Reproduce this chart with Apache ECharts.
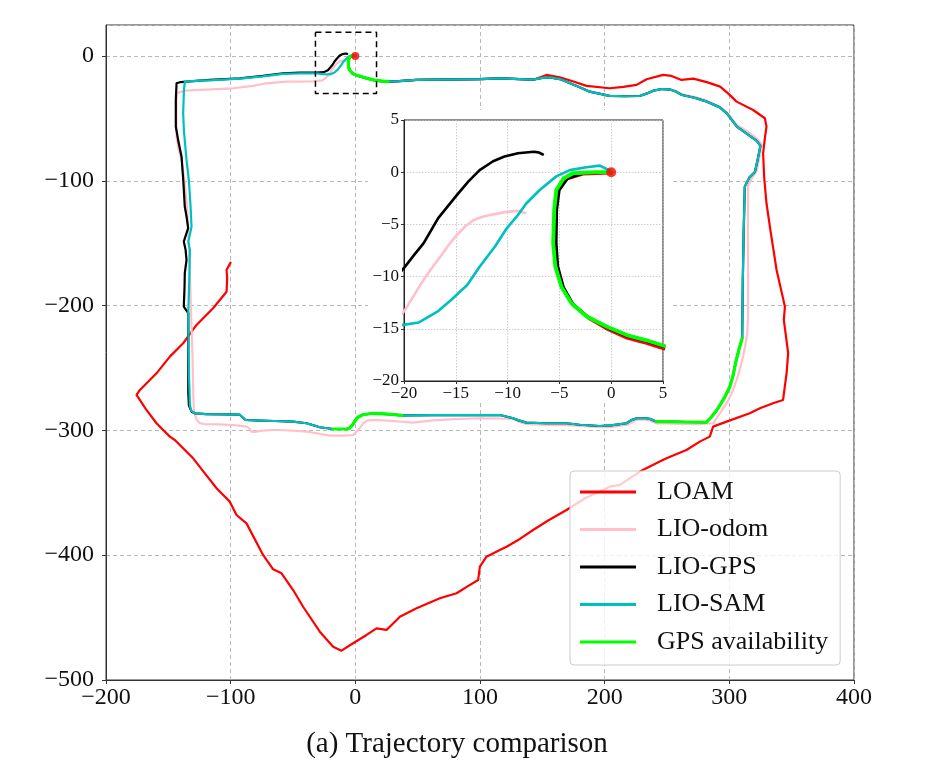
<!DOCTYPE html>
<html>
<head>
<meta charset="utf-8">
<script src="https://cdn.jsdelivr.net/npm/echarts@6/dist/echarts.min.js"></script>
<style>
html,body{margin:0;padding:0;background:#fff;}
#chart{width:940px;height:768px;}
</style>
</head>
<body>
<div id="chart"></div>
<script>
// ---------- data (metres) ----------
const xTicks = [-200, -100, 0, 100, 200, 300, 400];
const yTicks = [-500, -400, -300, -200, -100, 0];
const legendNames = ['LOAM', 'LIO-odom', 'LIO-GPS', 'LIO-SAM', 'GPS availability'];

const samStart = [[0,0],[-1.5,0],[-2.7,-0.05],[-3.7,-0.1],[-4.6,-0.6],[-5.3,-1.7],[-5.5,-3.6],[-5.6,-6.8],[-5.4,-9],[-4.8,-11],[-3.8,-12.6],[-2.4,-13.8],[-0.4,-14.8],[1.5,-15.6],[3.4,-16.1],[5,-16.6],[9,-17.8],[14.3,-19.2],[20,-20],[26.3,-20.6]];
const loamStart = [[0,-0.1],[-2.7,-0.2],[-4.4,-0.7],[-5.1,-1.8],[-5.3,-3.6],[-5.4,-6.8],[-5.2,-9.2],[-4.6,-11.2],[-3.6,-12.8],[-2.2,-14],[-0.3,-15.1],[1.5,-15.9],[3.4,-16.4],[5,-16.9],[9,-18],[14.3,-19.3],[20,-20.1],[26.3,-20.7]];
const gpsStart = [[0,0],[-1.5,0],[-2.7,-0.05],[-3.7,-0.1],[-4.6,-0.6],[-5.3,-1.7],[-5.5,-3.6],[-5.6,-6.8],[-5.4,-9],[-4.8,-11],[-3.8,-12.6],[-2.4,-13.8],[-0.4,-14.8],[1.5,-15.6],[3.4,-16.1],[5,-16.6],[9,-17.8],[14.3,-19.2],[20,-20],[26.3,-20.6]];
const blackStart = [[0,0],[-2.7,-0.1],[-4.2,-0.6],[-5,-1.7],[-5.25,-3.6],[-5.3,-6.8],[-5.15,-9],[-4.6,-11],[-3.7,-12.6],[-2.3,-13.8],[-0.4,-14.9],[1.5,-15.7],[3.4,-16.2],[5,-16.7],[9,-17.8],[14.3,-19.2],[20,-20],[26.3,-20.6]];
const topShared = [[35,-20.2],[49,-19.2],[65,-19],[84,-18.7],[100,-18.5],[116,-17.9],[132,-18.5],[142.6,-19]];
const samTopRight = [[150,-17.6],[156,-17.1],[164,-18.5],[169.4,-20.6],[180,-25],[188,-28.6],[204,-32],[216,-32.3],[228,-32.1],[234,-30],[239,-27.8],[246,-26.5],[252,-26.7],[257,-28.5],[262,-31.3],[272,-33.5],[282,-36.6],[292,-41],[298,-46],[306,-56.6],[315,-63],[322,-68],[325,-72],[322.5,-84],[320.5,-93],[316,-97.5],[312.4,-104.7],[311.6,-136.8],[310.8,-180],[310.3,-226.2]];
const samRightGps = [[310.3,-226.2],[307.5,-236],[305,-246],[303,-256],[300.4,-265],[296,-274],[290,-283.7],[285,-290],[281.7,-293.5],[265,-293.3],[249.6,-293],[241.6,-293]];
const samBottomRight = [[241.6,-293],[237,-291],[233.6,-290.3],[225.6,-290.3],[221,-292],[217.5,-294.3],[205,-296],[196,-296.5],[180,-295.5],[169.4,-294.3],[153,-294.3],[137.3,-293.8],[131,-292],[126.6,-290.3],[116,-287.7],[90,-287.7],[62,-287.7],[37.3,-288]];
const samBottomGps = [[37.3,-288],[26,-286.9],[14.3,-286.3],[6,-287.5],[2,-289.5],[0,-292],[-2.5,-296],[-5,-298.5],[-7.1,-298.9],[-17.8,-298.9]];
const samBottomLeft = [[-17.8,-298.9],[-28.5,-297.5],[-35,-295.5],[-39.1,-294.3],[-50,-293],[-65,-292.5],[-76.6,-292.2],[-88,-291.7],[-90.5,-289.5],[-93,-287.3],[-103.3,-287.1],[-119.4,-286.9],[-128.7,-286.3]];
const samLeft = [[-131.5,-284.5],[-132.7,-280],[-133.3,-260],[-133.7,-240],[-134,-206],[-133.2,-180],[-132.7,-155.4],[-134,-148.8],[-131.4,-136.8],[-132.2,-120],[-133.5,-100],[-135.4,-83.3],[-137.5,-60],[-138.1,-45.9],[-137.5,-28],[-136.8,-20.6]];
const samTopLeft = [[-125,-19.8],[-116.7,-19.5],[-92.6,-18.2],[-74,-16.3],[-58,-14.3],[-44.5,-14],[-31,-14],[-26,-14.5],[-22,-14.8]];
const samEnd = [[-19.9,-14.6],[-18.6,-14.4],[-16.7,-13.3],[-15.4,-12.2],[-13.9,-10.8],[-12.7,-9.05],[-11.2,-7.1],[-10.1,-5.4],[-9,-4.1],[-8.2,-3],[-6.9,-1.7],[-5.3,-0.4],[-4,0.2],[-2.4,0.47],[-1.1,0.63],[-0.1,0.14]];
const blackLeft = [[-131.4,-285],[-133.5,-280],[-134,-270],[-134,-240],[-134,-206],[-137.6,-200.9],[-137,-185],[-136.8,-174],[-135.4,-163.5],[-136.2,-155],[-137.6,-148.8],[-134.1,-138],[-135.5,-128],[-136.8,-120.7],[-138,-100],[-139.4,-80.7],[-142,-68],[-144,-56.6],[-144,-35],[-143.4,-21.9],[-140,-20.9],[-135.4,-20.6]];
const blackTopLeft = [[-116.7,-19.2],[-92.6,-17.9],[-74,-16],[-58,-13.9],[-44.5,-13.4],[-31,-13.4],[-25.5,-13],[-22,-11.5]];
const blackEnd = [[-19.9,-9.05],[-19,-7.9],[-18.1,-6.8],[-17.4,-5.6],[-16.7,-4.4],[-15.8,-3.3],[-14.9,-2.2],[-13.8,-0.9],[-12.7,0.2],[-11.4,1.05],[-10.3,1.5],[-9,1.82],[-7.5,1.96],[-7,1.9],[-6.6,1.7]];
const odomRest = [[257,-28],[262,-30.5],[272,-32.8],[282,-35.8],[292,-40.5],[298,-45],[306,-55],[316,-61.5],[323,-67],[326,-71.5],[324,-82],[322,-92],[318,-98],[315,-104],[314.8,-140],[315,-180],[315,-210],[314.4,-222],[312.4,-234],[310,-245],[307,-256],[303,-267.6],[298,-278],[292,-287],[287,-294.3],[275,-295],[260,-294.8],[249.6,-294.5],[241.6,-294.5],[236,-292],[233,-291.5],[225.6,-291.5],[218,-295.5],[205,-297.5],[196,-297.5],[180,-296.5],[169,-295.8],[153,-295.6],[137.3,-295],[131,-293],[126.6,-290.8],[116,-290.5],[99.9,-290.3],[80,-291],[62,-292],[46.4,-293.8],[30,-292.5],[17,-291.7],[10,-292],[6.3,-294.3],[3,-299],[-1.8,-303.7],[-10,-304.2],[-20.5,-304.2],[-30,-302.5],[-39.1,-301],[-50,-300.3],[-60.6,-299.7],[-66,-299.7],[-75,-300.2],[-80.5,-301.2],[-83.3,-301],[-85.5,-298],[-87.3,-297],[-98,-295.7],[-110,-295.2],[-121,-295],[-124.7,-294.3],[-127.3,-291.5],[-129.5,-285],[-130,-270.3],[-130.6,-240],[-131.4,-216.9],[-132.5,-180],[-133.5,-150],[-135,-120],[-137,-100],[-139.4,-83.3],[-142,-74],[-143.4,-65],[-143.6,-45],[-143.4,-29.9],[-140,-28.8],[-135.4,-27.7],[-120,-27],[-98,-25.9],[-82,-24],[-71.2,-21.9],[-55.2,-20.6],[-33.8,-20.3],[-26.5,-19.5],[-22.5,-16.5],[-19.9,-13.2],[-19.1,-11.9],[-18.3,-10.6],[-17.4,-9.3],[-16.5,-8.1],[-15.7,-7],[-14.9,-6],[-14.1,-5.2],[-13.3,-4.6],[-12.5,-4.3],[-11.7,-4.1],[-10.1,-3.8],[-9.1,-3.7],[-8.3,-3.9]];
const loamRest = [[153.4,-15.2],[164,-17.1],[175,-20.5],[185.4,-24],[204.1,-25.9],[215,-24.8],[225.6,-23.2],[233.6,-18.7],[246.9,-15.2],[253.6,-16],[261.6,-19.2],[271,-18.2],[282,-21],[292.6,-24.6],[299,-30],[305.8,-36.6],[319.1,-43.3],[328.5,-49.9],[329.8,-56.6],[328.5,-66],[327.1,-78],[328,-98],[329.8,-118],[333,-140],[337.9,-171.5],[344.6,-200.9],[343.7,-211.5],[347.2,-238.2],[345.9,-254.3],[343.1,-275.6],[335.1,-278.3],[325,-282],[316.4,-286.3],[297.8,-293],[287,-297],[284.3,-305],[276.3,-309],[265.6,-315.7],[249.6,-322.4],[244.2,-325],[228.2,-333],[212.2,-343.7],[204.1,-345.1],[185,-354],[169.4,-363.8],[155,-372],[142.6,-379.8],[132,-387],[121.3,-393.2],[115.9,-395.8],[105.2,-401.2],[99.9,-409.2],[98.5,-419.9],[90,-425],[81.2,-430.5],[67.8,-434.5],[49.1,-442.5],[35.7,-449.3],[25,-459.9],[17,-458.6],[9,-463.9],[-1.8,-470.6],[-11.1,-476.5],[-17.8,-473.3],[-28.5,-461.3],[-41.9,-441.3],[-49.9,-427.9],[-59.2,-414.5],[-65.9,-411.3],[-74,-399.8],[-87.3,-374.5],[-95.3,-367.8],[-100.7,-357.1],[-111.3,-346.4],[-120.7,-334.4],[-130.1,-322.4],[-144.8,-307.7],[-148.8,-305],[-159.5,-294.3],[-168,-283],[-175.5,-271.6],[-172.8,-267.6],[-159.5,-254.3],[-148.8,-240.9],[-138.1,-230.2],[-127.4,-215.5],[-114.1,-202.2],[-103.3,-188.9],[-102.8,-178],[-103.3,-171.5],[-100.1,-165.6]];
const startPoint = [[0, 0]];
const zoomBox = [[-32,19],[17,19],[17,-30],[-32,-30],[-32,19]];

// ---------- assembled trajectories ----------
const upToTopRight = samTopRight.slice(0, 12);
const loam = loamStart.concat(topShared, loamRest);
const odom = gpsStart.concat(topShared, upToTopRight, odomRest);
const lioGps = blackStart.concat(topShared, samTopRight, samRightGps, samBottomRight, samBottomGps, samBottomLeft, blackLeft, blackTopLeft, blackEnd);
const lioSam = samStart.concat(topShared, samTopRight, samRightGps, samBottomRight, samBottomGps, samBottomLeft, samLeft, samTopLeft, samEnd);
const gpsSegments = [gpsStart, samRightGps, samBottomGps];

const FONT = '"Liberation Serif", "DejaVu Serif", serif';
const minus = v => (v < 0 ? '\u2212' + Math.abs(v) : String(v));
const colors = {'LOAM':'#ff0000','LIO-odom':'#ffc0cb','LIO-GPS':'#000000','LIO-SAM':'#00bfbf','GPS availability':'#00ff00'};

const series = [];
function addLine(name, data, width, gi, z) {
  series.push({
    name, type: 'line', data, xAxisIndex: gi, yAxisIndex: gi,
    symbol: 'none', showSymbol: false, silent: true, animation: false, z,
    color: colors[name],
    lineStyle: {color: colors[name], width, cap: 'round', join: 'round'}
  });
}
[0, 1].forEach(gi => {
  const s = gi === 0 ? 1 : 1.2;
  const z = gi === 0 ? 2 : 6;
  addLine('LOAM', loam, 2.2 * s, gi, z);
  addLine('LIO-odom', odom, 2.2 * s, gi, z);
  addLine('LIO-GPS', lioGps, 2.2 * s, gi, z);
  addLine('LIO-SAM', lioSam, 2.2 * s, gi, z);
  gpsSegments.forEach(seg => addLine('GPS availability', seg, 3.2 * s, gi, z));
  series.push({
    name: 'start', type: 'scatter', data: startPoint, xAxisIndex: gi, yAxisIndex: gi,
    symbolSize: gi === 0 ? 8 : 10, itemStyle: {color: '#ff0000'}, z: z + 4, silent: true, animation: false
  });
});
series.push({
  name: 'box', type: 'line', data: zoomBox, xAxisIndex: 0, yAxisIndex: 0, symbol: 'none',
  lineStyle: {color: '#000', width: 1.5, type: [6, 4]}, z: 3, silent: true, animation: false
});

function valueAxis(gi, min, max, step, isX) {
  const main = gi === 0;
  return {
    type: 'value', gridIndex: gi, min, max, interval: step, z: main ? 0 : 5,
    axisLine: {show: true, onZero: false, lineStyle: {color: main ? '#333' : '#222', width: 1}},
    axisTick: {show: true, length: main ? 4 : 3, lineStyle: {color: '#333'}},
    axisLabel: {
      fontFamily: FONT, fontSize: main ? 24 : 17, color: '#111',
      margin: main ? (isX ? 6 : 12) : (isX ? 4 : 5),
      showMaxLabel: main && !isX ? false : true,
      formatter: v => (main && !isX && v > 0 ? '' : minus(v))
    },
    splitLine: {show: true, lineStyle: main
      ? {color: '#b8b8b8', width: 1, type: [4, 3]}
      : {color: '#c0c0c0', width: 0.8, type: [1.5, 1.5]}}
  };
}

const chart = echarts.init(document.getElementById('chart'), null, {renderer: 'canvas'});
chart.setOption({
  animation: false,
  backgroundColor: '#fff',
  grid: [
    {left: 106, top: 25, width: 748, height: 655, show: true, borderColor: '#333', borderWidth: 1, backgroundColor: '#fff', z: 0},
    {left: 404, top: 120, width: 259, height: 261, show: true, borderColor: '#222', borderWidth: 1, backgroundColor: 'rgba(255,255,255,0)', z: 5}
  ],
  xAxis: [valueAxis(0, xTicks[0], xTicks[xTicks.length - 1], 100, true), valueAxis(1, -20, 5, 5, true)],
  yAxis: [valueAxis(0, yTicks[0], 24.8, 100, false), valueAxis(1, -20, 5, 5, false)],
  legend: {
    data: legendNames, orient: 'vertical', left: 570, top: 471,
    padding: [8, 12, 10, 10], itemWidth: 56, itemHeight: 3, icon: 'rect', itemGap: 11.5,
    backgroundColor: 'rgba(255,255,255,0.8)', borderColor: '#cccccc', borderWidth: 1, borderRadius: 4,
    textStyle: {fontFamily: FONT, fontSize: 26, lineHeight: 26, color: '#111', padding: [0, 0, 0, 16]},
    selectedMode: false, z: 20
  },
  graphic: [
    {type: 'rect', shape: {x: 368, y: 110, width: 303, height: 293}, style: {fill: '#ffffff'}, z: 1, silent: true},
    {type: 'text', x: 457, y: 744, z: 5, silent: true,
      style: {text: '(a) Trajectory comparison', fontFamily: FONT, fontSize: 29, fill: '#111', align: 'center', verticalAlign: 'middle'}}
  ],
  series
});
</script>
</body>
</html>
